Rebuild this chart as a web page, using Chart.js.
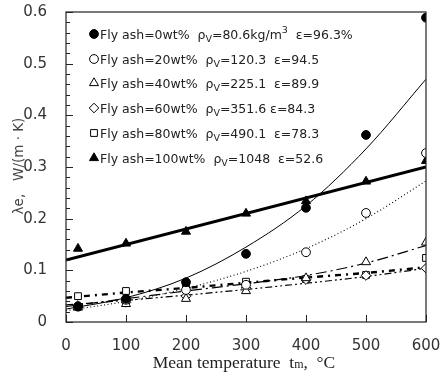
<!DOCTYPE html>
<html>
<head>
<meta charset="utf-8">
<script src="https://cdn.jsdelivr.net/npm/chart.js@4"></script>
<style>
  html, body { margin: 0; padding: 0; background: #fff; }
</style>
</head>
<body>
<canvas id="chart" width="444" height="376"></canvas>
<script>
// measured points, x = mean temperature (°C), y = λe (W/(m·K))
const temps = [20, 100, 200, 300, 400, 500, 600];
const ash0   = [0.030, 0.045, 0.077, 0.132, 0.221, 0.362, 0.589];
const ash20  = [0.030, 0.043, 0.062, 0.072, 0.135, 0.211, 0.327];
const ash40  = [0.028, 0.035, 0.045, 0.060, 0.085, 0.116, 0.154];
const ash60  = [0.032, 0.038, 0.050, 0.066, 0.082, 0.090, 0.104];
const ash80  = [0.050, 0.060, 0.072, 0.078, 0.083, 0.091, 0.124];
const ash100 = [0.142, 0.152, 0.175, 0.210, 0.234, 0.272, 0.312];

// fitted curves
const fitTemps = [0, 100, 200, 300, 400, 500, 600];
const fit0   = [0.025, 0.047, 0.085, 0.145, 0.225, 0.335, 0.470];
const fit20  = [0.022, 0.040, 0.065, 0.098, 0.142, 0.200, 0.273];
const fit40  = [0.030, 0.045, 0.060, 0.074, 0.090, 0.114, 0.148];
const fit60  = [0.033, 0.042, 0.052, 0.063, 0.075, 0.088, 0.104];
const fit80  = [0.047, 0.057, 0.066, 0.076, 0.086, 0.095, 0.106];
const fit100Temps = [0, 600];
const fit100 = [0.120, 0.300];

// legend text
const flyAsh   = ['0', '20', '40', '60', '80', '100'];
const rhoV     = ['80.6', '120.3', '225.1', '351.6', '490.1', '1048'];
const porosity = ['96.3%', '94.5', '89.9', '84.3', '78.3', '52.6'];

const xTickValues = [0, 100, 200, 300, 400, 500, 600];

const pts = (xs, ys) => xs.map((x, i) => ({ x: x, y: ys[i] }));

const markers = [
  { style: 'circle',   fill: '#000', r: 4.4 },
  { style: 'circle',   fill: '#fff', r: 4.4 },
  { style: 'triangle', fill: '#fff', r: 5.2 },
  { style: 'rectRot',  fill: '#fff', r: 4.8 },
  { style: 'rect',     fill: '#fff', r: 4.8 },
  { style: 'triangle', fill: '#000', r: 5.2 }
];
const series = [ash0, ash20, ash40, ash60, ash80, ash100];

const pointSets = series.map((s, i) => ({
  label: 'Fly ash=' + flyAsh[i] + 'wt%',
  data: pts(temps, s),
  showLine: false,
  pointStyle: markers[i].style,
  pointRadius: markers[i].r,
  pointBorderWidth: 1,
  pointBorderColor: '#000',
  pointBackgroundColor: markers[i].fill
}));

function curve(xs, ys, width, dash) {
  return {
    data: pts(xs, ys),
    showLine: true,
    pointRadius: 0,
    borderColor: '#000',
    borderWidth: width,
    borderDash: dash,
    cubicInterpolationMode: 'monotone',
    fill: false
  };
}

const lineSets = [
  curve(fitTemps, fit0, 1, []),
  curve(fitTemps, fit20, 1.1, [1, 2.5]),
  curve(fitTemps, fit40, 1.2, [11, 4, 2, 4]),
  curve(fitTemps, fit60, 1.2, [7, 3, 2, 3, 2, 3]),
  curve(fitTemps, fit80, 2.4, [6, 5, 2, 5]),
  curve(fit100Temps, fit100, 3, [])
];

// box around the plot, inward tick marks, axis titles and the legend
const decor = {
  id: 'decor',
  afterDatasetsDraw(chart) {
    const ctx = chart.ctx;
    const a = chart.chartArea;
    const xs = chart.scales.x, ys = chart.scales.y;
    ctx.save();
    ctx.strokeStyle = '#222';
    ctx.lineWidth = 1.2;
    ctx.strokeRect(a.left, a.top, a.right - a.left, a.bottom - a.top);

    ctx.lineWidth = 1;
    ctx.beginPath();
    ys.ticks.forEach(t => {
      const y = Math.round(ys.getPixelForValue(t.value)) + 0.5;
      const major = Math.abs(t.value * 10 - Math.round(t.value * 10)) < 1e-6;
      ctx.moveTo(a.left, y);
      ctx.lineTo(a.left + (major ? 7 : 4), y);
    });
    xTickValues.forEach(v => {
      const x = Math.round(xs.getPixelForValue(v)) + 0.5;
      ctx.moveTo(x, a.bottom);
      ctx.lineTo(x, a.bottom - 7);
    });
    ctx.stroke();

    // x title
    ctx.fillStyle = '#222';
    ctx.textBaseline = 'alphabetic';
    const serif = '17.5px "Liberation Serif"';
    const small = '12px "Liberation Serif"';
    const p1 = 'Mean temperature  t', p2 = 'm', p3 = ',  °C';
    ctx.font = serif;
    const w1 = ctx.measureText(p1).width, w3 = ctx.measureText(p3).width;
    ctx.font = small;
    const w2 = ctx.measureText(p2).width;
    const x0 = 244 - (w1 + w2 + w3) / 2;
    const yb = 368;
    ctx.font = serif;
    ctx.fillText(p1, x0, yb);
    ctx.font = small;
    ctx.fillText(p2, x0 + w1, yb);
    ctx.font = serif;
    ctx.fillText(p3, x0 + w1 + w2, yb);

    // y title
    ctx.save();
    ctx.translate(23, 166);
    ctx.rotate(-Math.PI / 2);
    ctx.font = '13.5px "DejaVu Sans"';
    ctx.fillStyle = '#444';
    ctx.textAlign = 'center';
    ctx.fillText('λe,   W/(m · K)', 0, 0);
    ctx.restore();

    // legend
    const rowY = [34, 59, 83, 108, 133, 158];
    const big = '12.5px "DejaVu Sans"', sub = '9.5px "DejaVu Sans"';
    ctx.textAlign = 'left';
    rowY.forEach((y, i) => {
      ctx.fillStyle = markers[i].fill;
      ctx.strokeStyle = '#000';
      ctx.lineWidth = 1;
      Chart.helpers.drawPoint(ctx, {
        pointStyle: markers[i].style, radius: markers[i].r, borderWidth: 1
      }, 94, y);

      ctx.fillStyle = '#222';
      let x = 100;
      const put = (txt, font, dy) => {
        ctx.font = font;
        ctx.fillText(txt, x, y + dy);
        x += ctx.measureText(txt).width;
      };
      put('Fly ash=' + flyAsh[i] + 'wt%  ', big, 4.5);
      put('ρ', big, 4.5);
      put('V', sub, 8);
      if (i === 0) {
        put('=' + rhoV[i] + 'kg/m', big, 4.5);
        put('3', sub, -1);
        put('  ε=' + porosity[i], big, 4.5);
      } else {
        const gap = (i === 3) ? ' ' : '  ';
        put('=' + rhoV[i] + gap + 'ε=' + porosity[i], big, 4.5);
      }
    });
    ctx.restore();
  }
};

new Chart(document.getElementById('chart').getContext('2d'), {
  type: 'scatter',
  data: { datasets: pointSets.concat(lineSets) },
  options: {
    responsive: false,
    animation: false,
    layout: { padding: { top: 12, right: 18, left: 0, bottom: 0 } },
    plugins: { legend: { display: false }, tooltip: { enabled: false } },
    scales: {
      x: {
        type: 'linear',
        min: 0, max: 600,
        grid: { display: false },
        border: { display: false },
        ticks: {
          stepSize: 100,
          padding: 7,
          color: '#333',
          font: { family: 'DejaVu Sans', size: 15 }
        },
        afterFit(scale) {
          scale.height = 54;
          scale.paddingLeft = 0;
          scale.paddingRight = 0;
        }
      },
      y: {
        min: 0, max: 0.6,
        grid: { display: false },
        border: { display: false },
        ticks: {
          stepSize: 0.02,
          autoSkip: false,
          padding: 11,
          color: '#333',
          font: { family: 'DejaVu Sans', size: 15 },
          callback: v => {
            const k = Math.round(v * 10);
            if (Math.abs(v * 10 - k) > 1e-6) return '';
            return k === 0 ? '0' : (k / 10).toFixed(1);
          }
        },
        afterFit(scale) {
          scale.width = 66;
          scale.paddingTop = 0;
          scale.paddingBottom = 0;
        }
      }
    }
  },
  plugins: [decor]
});
</script>
</body>
</html>
